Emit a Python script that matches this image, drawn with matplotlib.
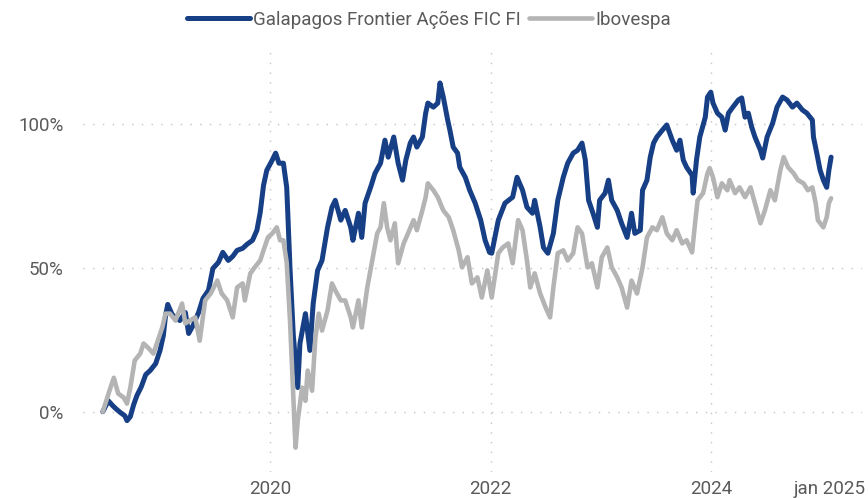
import datetime as dt
import matplotlib
matplotlib.use("Agg")
import matplotlib.pyplot as plt
import matplotlib.dates as mdates
from matplotlib.ticker import FuncFormatter

# cumulative return (%), dates as decimal years
fund_t = [2018.48, 2018.53, 2018.57, 2018.60, 2018.64, 2018.68, 2018.70, 2018.73, 2018.76, 2018.79,
          2018.83, 2018.87, 2018.91, 2018.96, 2019.00, 2019.03, 2019.05, 2019.07, 2019.11, 2019.15,
          2019.18, 2019.23, 2019.26, 2019.30, 2019.35, 2019.39, 2019.44, 2019.48, 2019.53, 2019.57,
          2019.62, 2019.66, 2019.70, 2019.75, 2019.79, 2019.84, 2019.88, 2019.91, 2019.94, 2019.97,
          2020.01, 2020.05, 2020.08, 2020.12, 2020.15, 2020.16, 2020.18, 2020.21, 2020.25, 2020.27,
          2020.32, 2020.36, 2020.39, 2020.43, 2020.47, 2020.52, 2020.56, 2020.59, 2020.64, 2020.68,
          2020.73, 2020.75, 2020.80, 2020.83, 2020.86, 2020.91, 2020.95, 2021.00, 2021.04, 2021.07,
          2021.12, 2021.16, 2021.20, 2021.23, 2021.27, 2021.30, 2021.33, 2021.38, 2021.41, 2021.43,
          2021.48, 2021.52, 2021.54, 2021.57, 2021.61, 2021.63, 2021.66, 2021.70, 2021.72, 2021.77,
          2021.81, 2021.86, 2021.91, 2021.95, 2021.99, 2022.01, 2022.07, 2022.13, 2022.20, 2022.24,
          2022.29, 2022.33, 2022.38, 2022.40, 2022.45, 2022.48, 2022.52, 2022.57, 2022.61, 2022.66,
          2022.70, 2022.75, 2022.79, 2022.83, 2022.86, 2022.89, 2022.93, 2022.97, 2022.99, 2023.04,
          2023.07, 2023.10, 2023.15, 2023.19, 2023.24, 2023.28, 2023.31, 2023.36, 2023.38, 2023.42,
          2023.45, 2023.48, 2023.51, 2023.56, 2023.60, 2023.65, 2023.69, 2023.72, 2023.75, 2023.78,
          2023.83, 2023.84, 2023.87, 2023.90, 2023.95, 2023.97, 2024.00, 2024.02, 2024.06, 2024.10,
          2024.13, 2024.16, 2024.20, 2024.25, 2024.28, 2024.31, 2024.34, 2024.37, 2024.40, 2024.45,
          2024.47, 2024.51, 2024.56, 2024.60, 2024.65, 2024.69, 2024.74, 2024.78, 2024.83, 2024.87,
          2024.92, 2024.93, 2024.96, 2024.99, 2025.02, 2025.05, 2025.07, 2025.09]
fund = [0.0, 3.8, 2.1, 1.0, -0.3, -1.4, -3.1, -1.7, 2.4, 5.6,
        8.7, 12.9, 14.3, 16.7, 21.3, 26.5, 33.4, 37.3, 33.8, 32.4,
        31.7, 34.5, 27.2, 30.0, 34.5, 39.4, 42.2, 49.8, 51.9, 55.4,
        52.6, 54.0, 56.1, 56.8, 58.2, 59.6, 63.1, 69.3, 78.7, 84.0,
        86.8, 89.9, 86.4, 86.4, 78.0, 69.0, 49.8, 26.5, 8.4, 23.7,
        34.1, 21.3, 37.6, 49.1, 52.6, 64.1, 71.1, 73.5, 66.6, 70.0,
        64.1, 59.6, 69.0, 60.6, 72.5, 78.0, 82.9, 86.4, 94.4, 88.5,
        95.5, 86.4, 80.5, 87.5, 93.4, 95.5, 92.0, 95.5, 103.8, 107.3,
        105.9, 107.3, 114.3, 109.4, 101.4, 97.9, 92.0, 89.9, 85.0, 81.5,
        77.0, 72.5, 66.6, 59.6, 55.4, 55.1, 66.6, 72.5, 74.6, 81.5,
        77.0, 71.1, 69.0, 73.5, 64.1, 57.1, 55.1, 62.0, 73.5, 81.5,
        86.4, 89.9, 90.9, 93.4, 87.5, 73.5, 69.0, 64.1, 73.5, 76.0,
        80.5, 73.5, 70.0, 65.5, 60.6, 69.0, 62.0, 63.1, 77.0, 80.5,
        88.5, 93.4, 95.5, 97.9, 99.7, 94.4, 90.9, 94.4, 87.5, 85.0,
        82.2, 76.0, 87.5, 95.5, 102.4, 109.4, 111.1, 107.3, 103.8, 102.4,
        97.9, 103.8, 105.9, 108.4, 109.1, 102.4, 103.8, 99.0, 95.5, 90.9,
        88.2, 95.5, 100.3, 105.9, 109.4, 108.4, 105.9, 107.3, 104.9, 103.8,
        101.4, 95.5, 89.9, 84.0, 80.5, 78.0, 84.0, 88.5]

ibov_t = [2018.48, 2018.55, 2018.58, 2018.62, 2018.67, 2018.70, 2018.73, 2018.77, 2018.82, 2018.85,
          2018.89, 2018.94, 2018.98, 2019.02, 2019.05, 2019.09, 2019.14, 2019.20, 2019.23, 2019.27,
          2019.32, 2019.36, 2019.41, 2019.46, 2019.52, 2019.56, 2019.61, 2019.66, 2019.70, 2019.75,
          2019.77, 2019.82, 2019.86, 2019.91, 2019.94, 2019.98, 2020.02, 2020.06, 2020.09, 2020.12,
          2020.15, 2020.18, 2020.21, 2020.23, 2020.25, 2020.29, 2020.32, 2020.34, 2020.38, 2020.41,
          2020.44, 2020.47, 2020.52, 2020.56, 2020.59, 2020.64, 2020.68, 2020.73, 2020.75, 2020.80,
          2020.83, 2020.88, 2020.93, 2020.97, 2021.00, 2021.03, 2021.06, 2021.09, 2021.13, 2021.16,
          2021.21, 2021.25, 2021.30, 2021.33, 2021.38, 2021.41, 2021.43, 2021.48, 2021.52, 2021.57,
          2021.62, 2021.66, 2021.71, 2021.74, 2021.79, 2021.83, 2021.88, 2021.92, 2021.97, 2022.01,
          2022.07, 2022.11, 2022.16, 2022.20, 2022.25, 2022.29, 2022.33, 2022.36, 2022.40, 2022.45,
          2022.50, 2022.54, 2022.57, 2022.61, 2022.66, 2022.70, 2022.75, 2022.79, 2022.83, 2022.88,
          2022.92, 2022.97, 2023.01, 2023.06, 2023.10, 2023.15, 2023.19, 2023.24, 2023.28, 2023.33,
          2023.38, 2023.42, 2023.47, 2023.51, 2023.56, 2023.60, 2023.65, 2023.69, 2023.74, 2023.78,
          2023.83, 2023.86, 2023.88, 2023.93, 2023.97, 2023.99, 2024.02, 2024.06, 2024.10, 2024.15,
          2024.17, 2024.22, 2024.26, 2024.31, 2024.36, 2024.40, 2024.45, 2024.49, 2024.54, 2024.58,
          2024.63, 2024.66, 2024.70, 2024.75, 2024.79, 2024.84, 2024.88, 2024.92, 2024.95, 2024.97,
          2025.02, 2025.05, 2025.07, 2025.09]
ibov = [0.0, 8.4, 11.8, 6.3, 4.9, 2.8, 8.4, 17.8, 20.2, 23.7,
        22.3, 20.2, 24.7, 29.3, 34.1, 34.1, 31.7, 37.6, 30.7, 31.7,
        32.8, 24.7, 38.7, 41.1, 45.6, 41.1, 38.7, 32.8, 43.2, 44.6,
        38.7, 48.1, 50.2, 52.6, 56.1, 60.6, 62.0, 64.1, 59.6, 59.6,
        51.9, 31.7, 5.6, -12.5, -3.1, 8.4, 3.8, 14.3, 7.3, 25.8,
        34.1, 28.2, 35.2, 44.6, 42.2, 38.7, 38.7, 32.8, 29.3, 38.7,
        29.3, 43.2, 53.7, 62.0, 64.1, 72.5, 64.1, 59.6, 65.5, 51.6,
        58.5, 62.0, 66.6, 63.1, 70.0, 74.6, 79.4, 77.0, 74.6, 70.0,
        67.6, 63.1, 56.1, 50.2, 53.7, 44.6, 46.7, 39.7, 49.1, 39.7,
        55.1, 57.1, 58.5, 51.6, 66.6, 63.1, 52.6, 43.2, 48.1, 41.1,
        36.2, 32.8, 43.2, 55.1, 56.1, 52.6, 55.1, 64.1, 62.0, 50.2,
        51.6, 43.2, 53.7, 57.1, 50.2, 46.7, 43.2, 36.2, 45.6, 41.1,
        50.2, 60.6, 64.1, 63.1, 67.6, 62.0, 59.6, 63.1, 58.5, 59.6,
        55.4, 66.6, 73.5, 76.0, 82.9, 84.7, 81.5, 74.6, 79.4, 77.0,
        80.5, 76.0, 78.0, 74.6, 78.0, 72.5, 65.5, 70.0, 77.0, 73.5,
        84.0, 88.5, 85.0, 82.9, 80.5, 79.4, 77.0, 78.0, 72.5, 66.6,
        64.1, 67.6, 72.5, 74.2]

labels = ["Galapagos Frontier Ações FIC FI", "Ibovespa"]
x_ticks = [2020.0, 2022.0, 2024.0, 2025.08]
x_tick_labels = ["2020", "2022", "2024", "jan 2025"]
y_ticks = [0, 50, 100]


def to_date(y):
    year = int(y)
    start = dt.datetime(year, 1, 1)
    days = (dt.datetime(year + 1, 1, 1) - start).days
    return start + dt.timedelta(days=(y - year) * days)


plt.rcParams['font.family'] = ['Roboto', 'DejaVu Sans']

fig = plt.figure(figsize=(8.68, 4.98), dpi=100)
ax = fig.add_axes([0.0956, 0.052, 0.8974, 0.849])

ax.plot([to_date(t) for t in fund_t], fund, color="#173f85", linewidth=3.6,
        solid_joinstyle="round", solid_capstyle="round", label=labels[0])
ax.plot([to_date(t) for t in ibov_t], ibov, color="#b4b4b4", linewidth=3.3,
        solid_joinstyle="round", solid_capstyle="round", label=labels[1])

ax.set_xlim(to_date(2018.30), to_date(2025.37))
ax.set_ylim(-21, 126)

ax.set_xticks([to_date(t) for t in x_ticks])
ax.set_xticklabels(x_tick_labels)
ax.set_yticks(y_ticks)
ax.yaxis.set_major_formatter(FuncFormatter(lambda v, p: "%d%%" % v))

ax.tick_params(length=0, labelsize=13.5, colors="#5a5a5a")
ax.tick_params(axis="x", pad=6)
ax.tick_params(axis="y", pad=14)

ax.grid(True, color="#c4c4c4", linestyle=(0, (1, 6)), linewidth=1.0)
ax.set_axisbelow(True)
ax.xaxis.get_gridlines()[-1].set_visible(False)

for s in ax.spines.values():
    s.set_visible(False)

fig.legend(loc="upper center", bbox_to_anchor=(0.494, 1.012), ncol=2, frameon=False,
           fontsize=13.5, handlelength=3.4, handletextpad=0.15, columnspacing=0.4,
           labelcolor="#5a5a5a")

fig.savefig("out.png", dpi=100)
